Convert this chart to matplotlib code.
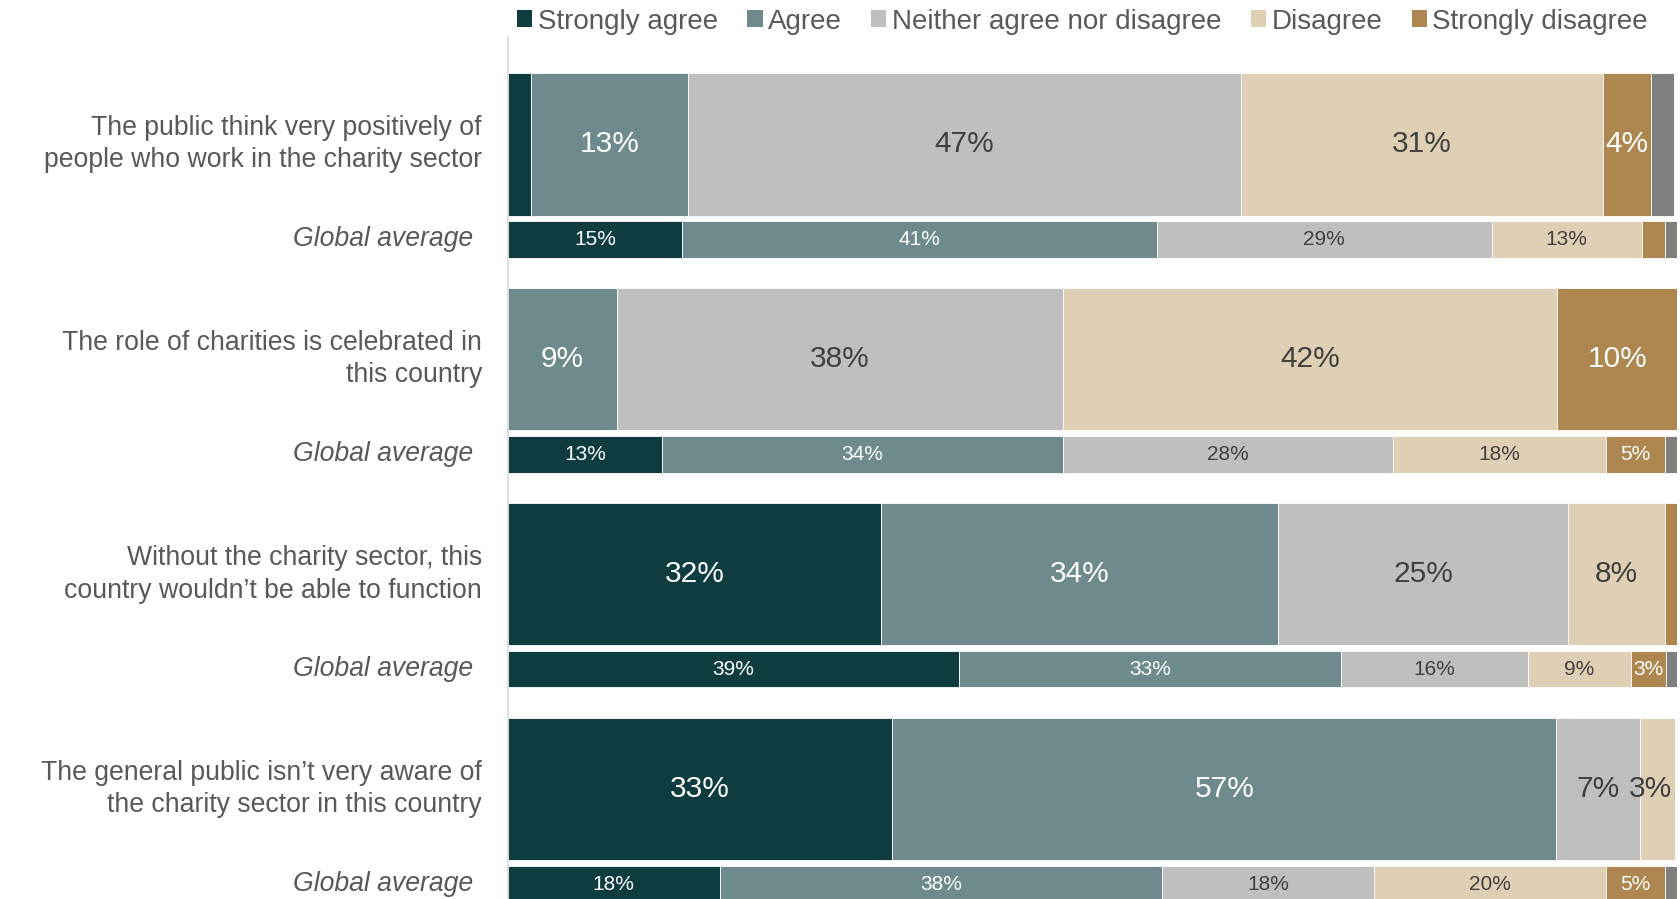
import matplotlib
matplotlib.use("Agg")
import matplotlib.pyplot as plt
from matplotlib.patches import Patch

plt.rcParams["font.family"] = ["Liberation Sans", "DejaVu Sans"]

# ---------- data ----------
statements = [
    "The public think very positively of\npeople who work in the charity sector",
    "The role of charities is celebrated in\nthis country",
    "Without the charity sector, this\ncountry wouldn\u2019t be able to function",
    "The general public isn\u2019t very aware of\nthe charity sector in this country",
]
categories = ["Strongly agree", "Agree", "Neither agree nor disagree",
              "Disagree", "Strongly disagree", "Don't know"]

# country responses (% of respondents)
country_sa = [2.0, 0.0, 31.9, 32.9]
country_a = [13.4, 9.3, 34.0, 56.8]
country_n = [47.3, 38.2, 24.8, 7.2]
country_d = [31.0, 42.3, 8.3, 3.0]
country_sd = [4.1, 10.3, 1.0, 0.0]
country_dk = [2.0, 0.0, 0.0, 0.0]

# global average responses (%)
global_sa = [14.9, 13.2, 38.6, 18.1]
global_a = [40.6, 34.3, 32.7, 37.9]
global_n = [28.7, 28.2, 16.0, 18.1]
global_d = [12.8, 18.3, 8.8, 19.9]
global_sd = [2.0, 5.0, 3.0, 5.0]
global_dk = [1.0, 1.0, 0.9, 1.0]

colors = ["#0f3c3f", "#6e8a8c", "#bfbfbf", "#dfd0b5", "#ad874f", "#7f7f7f"]
label_colors = ["white", "white", "#404040", "#404040", "white", "white"]
TEXT = "#595959"

country = [country_sa, country_a, country_n, country_d, country_sd, country_dk]
glob = [global_sa, global_a, global_n, global_d, global_sd, global_dk]

# ---------- layout ----------
fig = plt.figure(figsize=(16.81, 8.99), dpi=100)
ax = fig.add_axes([508 / 1681, 0, 1168.6 / 1681, 862 / 899])
ax.set_xlim(0, 100)
ax.set_ylim(3.511, -0.499)

BIG_H, SMALL_H, SMALL_OFF = 0.663, 0.17, 0.442


def draw_row(y, values, h, fs):
    left = 0.0
    for k, v in enumerate(values):
        if v > 0:
            ax.barh(y, v, left=left, height=h, color=colors[k],
                    edgecolor="white", linewidth=0.6)
            if v >= 2.5:
                xc = left + v / 2
                # narrow segment at the right edge: nudge label inward
                if left + v > 99.5 and v < 4:
                    xc -= 0.6
                ax.text(xc, y, f"{round(v)}%", ha="center", va="center",
                        fontsize=fs, color=label_colors[k])
        left += v


for i, stmt in enumerate(statements):
    y_big = i
    y_small = i + SMALL_OFF
    draw_row(y_big, [c[i] for c in country], BIG_H, 21.5)
    draw_row(y_small, [g[i] for g in glob], SMALL_H, 15)
    fig.text(482 / 1681, 1 - (144.2 + i * 215) / 899, stmt, ha="right", va="center",
             fontsize=19.2, color=TEXT, linespacing=1.33)
    fig.text(473 / 1681, 1 - (239.1 + i * 215) / 899, "Global average", ha="right",
             va="center", fontsize=19.2, color=TEXT, style="italic")

for s in ["top", "right", "bottom"]:
    ax.spines[s].set_visible(False)
ax.spines["left"].set_color("#d9d9d9")
ax.spines["left"].set_linewidth(1.2)
ax.set_xticks([])
ax.set_yticks([])

handles = [Patch(facecolor=colors[k], label=categories[k]) for k in range(5)]
fig.legend(handles=handles, loc="center", bbox_to_anchor=(0.644, 0.976), ncol=5,
           frameon=False, fontsize=20, labelcolor=TEXT, handlelength=0.55,
           handleheight=0.55, handletextpad=0.2, columnspacing=1.05, borderpad=0,
           borderaxespad=0)

fig.savefig("out.png", dpi=100)
